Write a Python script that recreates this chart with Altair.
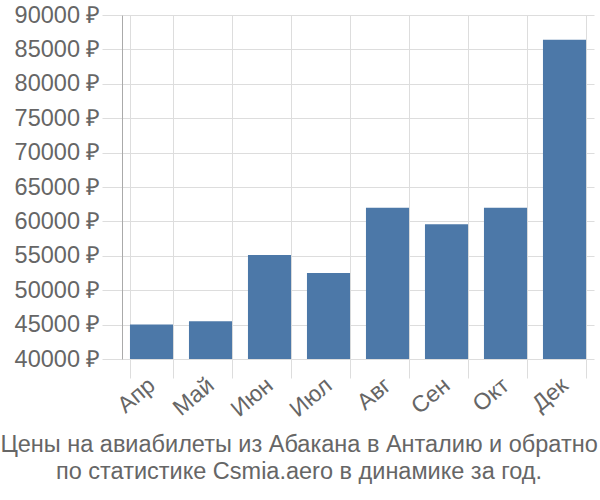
import altair as alt
import pandas as pd

months = ["Апр", "Май", "Июн", "Июл", "Авг", "Сен", "Окт", "Дек"]
prices = [45000, 45500, 55100, 52500, 62000, 59600, 62000, 86400]
title_lines = ["Цены на авиабилеты из Абакана в Анталию и обратно",
               "по статистике Csmia.aero в динамике за год."]

df = pd.DataFrame({"month": months, "price": prices})

FONT = "Liberation Sans"

chart = alt.Chart(df).mark_bar(color="#4c78a8").encode(
    x=alt.X("month:N", sort=months, title=None,
            scale=alt.Scale(paddingInner=0.27, paddingOuter=0.135),
            axis=alt.Axis(grid=True, tickBand="extent", domain=False,
                          ticks=True, tickSize=19, tickColor="#dddddd",
                          gridColor="#dddddd", labelAngle=-40,
                          labelAlign="right", labelBaseline="middle",
                          labelFontSize=23, labelColor="#666666",
                          labelFont=FONT, labelPadding=4)),
    y=alt.Y("price:Q", title=None,
            scale=alt.Scale(domain=[40000, 90000], zero=False, nice=False),
            axis=alt.Axis(values=list(range(40000, 90001, 5000)),
                          labelExpr="datum.value + ' ₽'",
                          gridColor="#dddddd", tickColor="#dddddd", tickSize=20,
                          domain=True, domainColor="#aaaaaa",
                          labelFontSize=23.5, labelColor="#666666",
                          labelFont=FONT, labelPadding=2)),
    y2=alt.datum(40000),
).properties(
    width=472, height=344,
    autosize=alt.AutoSizeParams(type="none"),
    padding={"left": 122, "top": 15, "right": 6, "bottom": 141},
    title=alt.TitleParams(text=title_lines, orient="bottom", anchor="middle",
                          frame="bounds", fontSize=23.5, color="#666666",
                          font=FONT, fontWeight="normal", offset=12,
                          lineHeight=27, dx=-5),
).configure_view(stroke=None)

chart.save("out.html", embed_options={"renderer": "svg", "actions": False})
